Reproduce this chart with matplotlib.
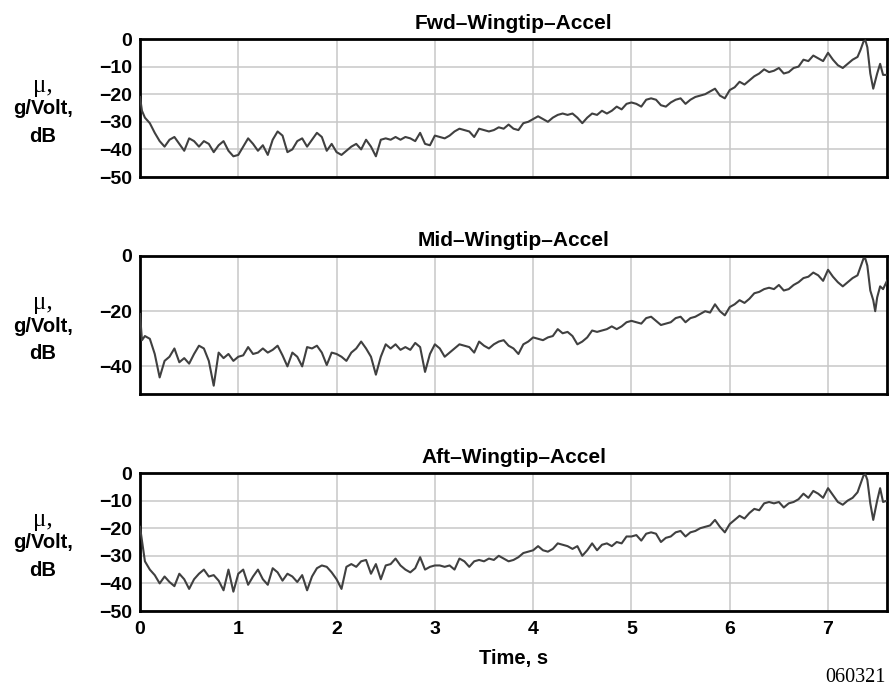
import numpy as np
import matplotlib
matplotlib.use("Agg")
from matplotlib import pyplot as plt
from matplotlib import transforms

# sample times on the main grid, plus the few extra points read near the start and the end
t_main = np.round(np.arange(0.05, 7.3001, 0.05), 2)

titles = ["Fwd\u2013Wingtip\u2013Accel", "Mid\u2013Wingtip\u2013Accel", "Aft\u2013Wingtip\u2013Accel"]

fwd_head_t = [0.0, 0.02]
fwd_head = [-21, -26]
fwd_main = [-28.5, -30.5, -34, -37, -39, -36.5, -35.5, -38, -40.5, -36,
            -37, -39, -37, -38, -41, -38.5, -37, -40.5, -42.5, -42,
            -39, -36, -38, -40.5, -38.5, -42, -36.5, -33.5, -35, -41,
            -40, -37, -36, -39, -36.5, -34, -35.5, -40.5, -38, -41,
            -42, -40.5, -39, -38, -40, -36.5, -39, -42.5, -36.5, -36,
            -36.5, -35.5, -36.5, -35.5, -36, -37, -34, -38, -38.5, -35,
            -35.5, -36, -35, -33.5, -32.5, -33, -33.5, -35.5, -32.5, -33,
            -33.5, -33, -32, -32.5, -31, -32.5, -33, -30.5, -30, -29,
            -28, -29, -30, -28.5, -27.5, -27, -27.5, -27, -28.5, -30.5,
            -28.5, -27, -27.5, -26, -27, -26, -24.5, -25.5, -23.5, -23,
            -23.5, -24.5, -22, -21.5, -22, -24, -24.5, -23, -22, -21.5,
            -23.5, -22, -21, -20.5, -20, -19, -18, -20.5, -21.5, -18.5,
            -17.5, -15.5, -16.5, -15, -13.5, -12.5, -11, -12, -11.5, -10.5,
            -12.5, -12, -10.5, -10, -7.5, -8, -6, -7, -8, -5,
            -7.5, -9.5, -10.5, -9, -7.5, -6.5]
fwd_tail_t = [7.33, 7.36, 7.38, 7.4, 7.43, 7.46, 7.5, 7.53, 7.56, 7.6]
fwd_tail = [-4, -1, -0.5, -3, -12.5, -18, -12.5, -9, -13, -13]

mid_head_t = [0.0, 0.02]
mid_head = [-21, -30.5]
mid_main = [-29, -30, -35.5, -44, -38, -36.5, -33.5, -38.5, -37, -39,
            -35.5, -32.5, -33.5, -38, -47, -35, -37, -35.5, -38, -36.5,
            -36, -33, -35.5, -35, -33.5, -35, -34, -32.5, -36, -40,
            -35, -36.5, -40, -33, -33.5, -32.5, -35, -39.5, -35, -35.5,
            -36.5, -38, -35, -33.5, -31, -33.5, -36.5, -43, -36.5, -32,
            -33.5, -32, -34, -33, -34, -31.5, -33, -42, -35.5, -32,
            -33.5, -36.5, -35, -33.5, -32, -32.5, -33, -35, -31, -32.5,
            -33.5, -32, -31, -30.5, -32.5, -33.5, -35.5, -32, -31, -29.5,
            -30, -30.5, -29.5, -29, -26.5, -28, -27.5, -29, -32, -31,
            -29.5, -27, -27.5, -27, -26.5, -25.5, -26.5, -25.5, -24, -23.5,
            -24, -24.5, -22.5, -22, -23.5, -25, -24.5, -24, -22.5, -22,
            -24, -22.5, -22, -21, -20, -20.5, -17.5, -20, -21.5, -18.5,
            -17.5, -16, -17, -15.5, -13.5, -13, -12, -11.5, -12, -10.5,
            -12.5, -12, -10.5, -9.5, -8, -7.5, -6, -7, -9, -5,
            -7.5, -9.5, -11, -9.5, -8, -7]
mid_tail_t = [7.33, 7.36, 7.38, 7.4, 7.43, 7.46, 7.48, 7.5, 7.53, 7.56, 7.6]
mid_tail = [-4, -1, -1, -3.5, -12.5, -16, -20, -15, -11, -12, -9]

aft_head_t = [0.0, 0.02]
aft_head = [-19.5, -24.5]
aft_main = [-32, -35, -37, -40, -37.5, -39.5, -41, -36.5, -38.5, -42,
            -38.5, -36.5, -35, -37.5, -37, -39, -42.5, -35, -43, -36.5,
            -35, -40.5, -37.5, -35, -38.5, -40.5, -34.5, -36, -39, -36.5,
            -37.5, -39.5, -37, -42.5, -37.5, -34.5, -33.5, -34, -36, -38.5,
            -42, -34, -33, -34, -32, -31.5, -36.5, -33, -38.5, -33.5,
            -33, -31, -33.5, -35, -36, -34.5, -30.5, -35, -34, -33.5,
            -33.5, -34, -33.5, -35, -31, -32, -34, -32, -31.5, -32,
            -31, -31.5, -30, -31, -32, -31.5, -30.5, -29, -28.5, -28,
            -26.5, -28, -28.5, -27.5, -25.5, -26, -26.5, -27.5, -26.5, -30,
            -28, -25.5, -28, -26, -25.5, -26.5, -25, -25.5, -23, -23,
            -22.5, -24.5, -22, -21.5, -22, -25, -23.5, -23, -21.5, -21,
            -23, -21.5, -21, -20, -19.5, -19, -17, -19.5, -21.5, -18.5,
            -17, -15.5, -16.5, -14.5, -13, -13.5, -11, -10.5, -11, -10.5,
            -12.5, -11, -10.5, -9.5, -7.5, -9, -6.5, -7.5, -9, -5.5,
            -8, -10.5, -11.5, -10, -9, -7]
aft_tail_t = [7.33, 7.36, 7.38, 7.4, 7.43, 7.46, 7.5, 7.53, 7.56, 7.6]
aft_tail = [-4, -1, -0.5, -2.5, -11, -17, -10, -5.5, -10.5, -10]

yticks = [[0, -10, -20, -30, -40, -50], [0, -20, -40], [0, -10, -20, -30, -40, -50]]
xticks = [0, 1, 2, 3, 4, 5, 6, 7]

series = [
    (fwd_head_t + list(t_main) + fwd_tail_t, fwd_head + fwd_main + fwd_tail),
    (mid_head_t + list(t_main) + mid_tail_t, mid_head + mid_main + mid_tail),
    (aft_head_t + list(t_main) + aft_tail_t, aft_head + aft_main + aft_tail),
]

plt.rcParams['font.family'] = ['Liberation Sans', 'DejaVu Sans']
plt.rcParams['font.weight'] = 'bold'

fig = plt.figure(figsize=(8.89, 6.87), dpi=100)
W, H = 889, 687
ax_tops = [39, 256, 473]
ax_h = 138
left, right = 140, 887

for i, (tt, vv) in enumerate(series):
    top = ax_tops[i]
    ax = fig.add_axes([left / W, 1 - (top + ax_h) / H, (right - left) / W, ax_h / H])
    ax.plot(tt, vv, color='#404040', linewidth=1.5, zorder=3)
    ax.set_xlim(0, 7.6)
    ax.set_ylim(-50, 0)
    ax.set_yticks(yticks[i])
    ax.set_xticks(xticks)
    ax.grid(True, color='#c8c8c8', linewidth=1.1)
    ax.set_axisbelow(True)
    for s in ax.spines.values():
        s.set_linewidth(2.0)
        s.set_color('black')
    ax.tick_params(length=0, labelsize=14, pad=6)
    ax.tick_params(axis='x', pad=7)
    if i < 2:
        ax.set_xticklabels([])
    else:
        ax.set_xlabel('Time, s', fontsize=14.5, fontweight='bold', labelpad=8)
    ax.set_title(titles[i], fontsize=15, fontweight='bold', pad=7)

    tr = transforms.blended_transform_factory(fig.transFigure, ax.transAxes)
    fig.text(43 / W, 0.5 + 22 / ax_h, '\u03bc,', transform=tr, ha='center', va='center',
             family='Liberation Serif', fontweight='normal', fontsize=18)
    fig.text(43 / W, 0.5 - 1 / ax_h, 'g/Volt,', transform=tr, ha='center', va='center',
             fontsize=14.5, fontweight='bold')
    fig.text(43 / W, 0.5 - 28 / ax_h, 'dB', transform=tr, ha='center', va='center',
             fontsize=14.5, fontweight='bold')

fig.text(886 / W, 1 - 677 / H, '060321', ha='right', va='center',
         family='Liberation Serif', fontweight='normal', fontsize=14.5)

fig.savefig('out.png', dpi=100)
